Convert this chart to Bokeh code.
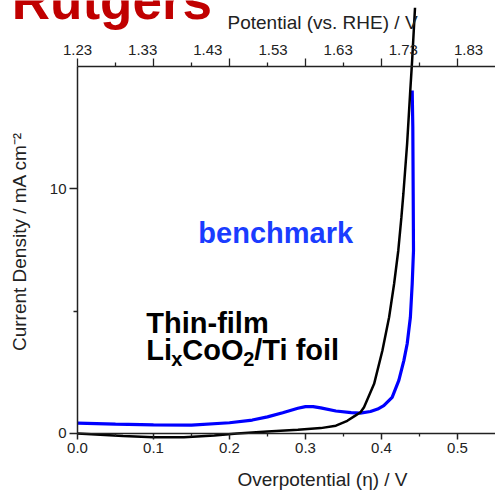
import math
from bokeh.plotting import figure
from bokeh.models import Range1d, LinearAxis, FixedTicker, PrintfTickFormatter, Label
from bokeh.embed import file_html
from bokeh.resources import INLINE

# ---- data ----
eta_film = [0.000, 0.030, 0.060, 0.100, 0.140, 0.180, 0.210, 0.250, 0.290, 0.320,
            0.340, 0.355, 0.365, 0.3724, 0.3770, 0.3903, 0.4012, 0.4100, 0.4166, 0.4221,
            0.4262, 0.4288, 0.4337, 0.4376, 0.4403, 0.4441]
j_film = [0.00, -0.05, -0.10, -0.15, -0.15, -0.08, 0.00, 0.08, 0.15, 0.22,
          0.32, 0.52, 0.72, 0.87, 1.07, 2.03, 3.39, 4.75, 6.12, 7.48,
          8.84, 9.80, 11.84, 13.88, 15.24, 17.40]

eta_bench = [0.000, 0.050, 0.100, 0.150, 0.200, 0.230, 0.250, 0.270, 0.290, 0.300,
             0.310, 0.320, 0.340, 0.360, 0.372, 0.3855, 0.395, 0.403, 0.414, 0.4228,
             0.4294, 0.4338, 0.438, 0.4404, 0.4421, 0.4417, 0.4412, 0.4404]
j_bench = [0.42, 0.38, 0.35, 0.34, 0.44, 0.55, 0.68, 0.85, 1.03, 1.10,
           1.10, 1.05, 0.92, 0.85, 0.83, 0.90, 1.00, 1.14, 1.48, 2.17,
           2.98, 3.67, 4.75, 6.12, 7.48, 9.80, 12.52, 14.02]

bottom_ticks = [0.0, 0.1, 0.2, 0.3, 0.4, 0.5]
bottom_minor = [0.05, 0.15, 0.25, 0.35, 0.45]
left_ticks = [0, 10]
left_minor = [5]
top_tick_labels = ["1.23", "1.33", "1.43", "1.53", "1.63", "1.73", "1.83"]

FONT = "Liberation Sans"
AX = "#222222"
W, H = 495, 491
# data window: axes cross at (0, 0); plotted box is 0..0.55 by 0..15
X_START, X_END = -0.10132, 0.55
Y_START, Y_END = -2.3706, 17.6975
BOX_X = (0, 0.55)
BOX_Y = (0, 15)
TOP_SCALE = 0.8575  # top labels are spaced tighter than the ticks in the reference
BASE_SHIFT = 0.36   # baseline correction (em) for the svg text placement

p = figure(width=W, height=H, x_range=Range1d(X_START, X_END), y_range=Range1d(Y_START, Y_END),
           output_backend="svg", toolbar_location=None,
           min_border_left=0, min_border_right=0, min_border_top=0, min_border_bottom=0)
p.outline_line_color = None
p.xgrid.visible = False
p.ygrid.visible = False


def style(ax, tick_out, minor_out, standoff, font_size="15px"):
    ax.axis_line_color = AX
    ax.axis_line_width = 1.5
    ax.major_tick_line_color = AX
    ax.minor_tick_line_color = AX
    ax.major_tick_line_width = 1.5
    ax.minor_tick_line_width = 1.3
    ax.major_tick_in = 0
    ax.minor_tick_in = 0
    ax.major_tick_out = tick_out
    ax.minor_tick_out = minor_out
    ax.major_label_text_font = FONT
    ax.major_label_text_font_size = font_size
    ax.major_label_text_color = AX
    ax.major_label_standoff = standoff


xb = p.xaxis[0]
xb.ticker = FixedTicker(ticks=bottom_ticks, minor_ticks=bottom_minor)
xb.formatter = PrintfTickFormatter(format="%.1f")
xb.fixed_location = BOX_Y[0]
xb.bounds = BOX_X
style(xb, 6, 3, 4)

yl = p.yaxis[0]
yl.ticker = FixedTicker(ticks=left_ticks, minor_ticks=left_minor)
yl.fixed_location = BOX_X[0]
yl.bounds = BOX_Y
style(yl, 8, 4, 3)

# top axis: long ticks (no labels) at the bottom-axis tick positions
top_major = LinearAxis(ticker=FixedTicker(ticks=[], minor_ticks=bottom_ticks),
                       fixed_location=BOX_Y[1], bounds=BOX_X)
style(top_major, 0, 8, 0)
p.add_layout(top_major, "above")
# top axis: short ticks
top_minor = LinearAxis(ticker=FixedTicker(ticks=[], minor_ticks=bottom_minor),
                       fixed_location=BOX_Y[1], bounds=BOX_X)
style(top_minor, 0, 4, 0)
top_minor.axis_line_color = None
p.add_layout(top_minor, "above")

# top axis labels (potential vs RHE)
top_vals = [float(s) for s in top_tick_labels]
p.extra_x_ranges = {"pot": Range1d(top_vals[0] + X_START / TOP_SCALE,
                                   top_vals[0] + X_END / TOP_SCALE)}
top_lab = LinearAxis(x_range_name="pot", ticker=FixedTicker(ticks=top_vals, minor_ticks=[]),
                     formatter=PrintfTickFormatter(format="%.2f"), fixed_location=BOX_Y[1])
style(top_lab, 0, 0, 11)
top_lab.axis_line_color = None
top_lab.major_tick_line_color = None
top_lab.minor_tick_line_color = None
p.add_layout(top_lab, "above")

# curves
p.line(eta_bench, j_bench, line_color="#0000ff", line_width=3.2)
p.line(eta_film, j_film, line_color="black", line_width=2.5)


def text(x, y, s, size, color="black", bold=False, align="left", dx=0, dy=0,
         baseline="alphabetic", angle=0.0):
    shift = round(BASE_SHIFT * size) if baseline == "alphabetic" else 0
    p.add_layout(Label(x=x, y=y, x_offset=dx, y_offset=dy + shift, text=s, text_font=FONT,
                       text_font_size=f"{size}px",
                       text_font_style="bold" if bold else "normal",
                       text_color=color, text_align=align, text_baseline=baseline,
                       angle=angle))


# titles / annotations
text(-0.0865, 16.91, "Rutgers", 53, color="#c00000", bold=True)
text(0.3224, 16.50, "Potential (vs. RHE) / V", 19, color=AX, align="center")
text(0.3224, -2.18, "Overpotential (\u03b7) / V", 19, color=AX, align="center")
text(-0.0763, 7.85, "Current Density / mA cm\u207b\u00b2", 19, color=AX, align="center",
     baseline="middle", angle=math.pi / 2)

text(0.159, 7.78, "benchmark", 29, color="#1a3cff", bold=True)
text(0.0905, 4.09, "Thin-film", 29, bold=True)

# Li_x CoO_2 / Ti foil composed from pieces
parts = [("Li", 0, 0, 29), ("x", 25, -6, 20), ("CoO", 36, 0, 29),
         ("2", 97, -6, 20), ("/Ti foil", 108, 0, 29)]
for txt, dx, dy, fs in parts:
    text(0.0905, 3.02, txt, fs, bold=True, dx=dx, dy=dy)

open("out.html", "w").write(file_html(p, INLINE))
